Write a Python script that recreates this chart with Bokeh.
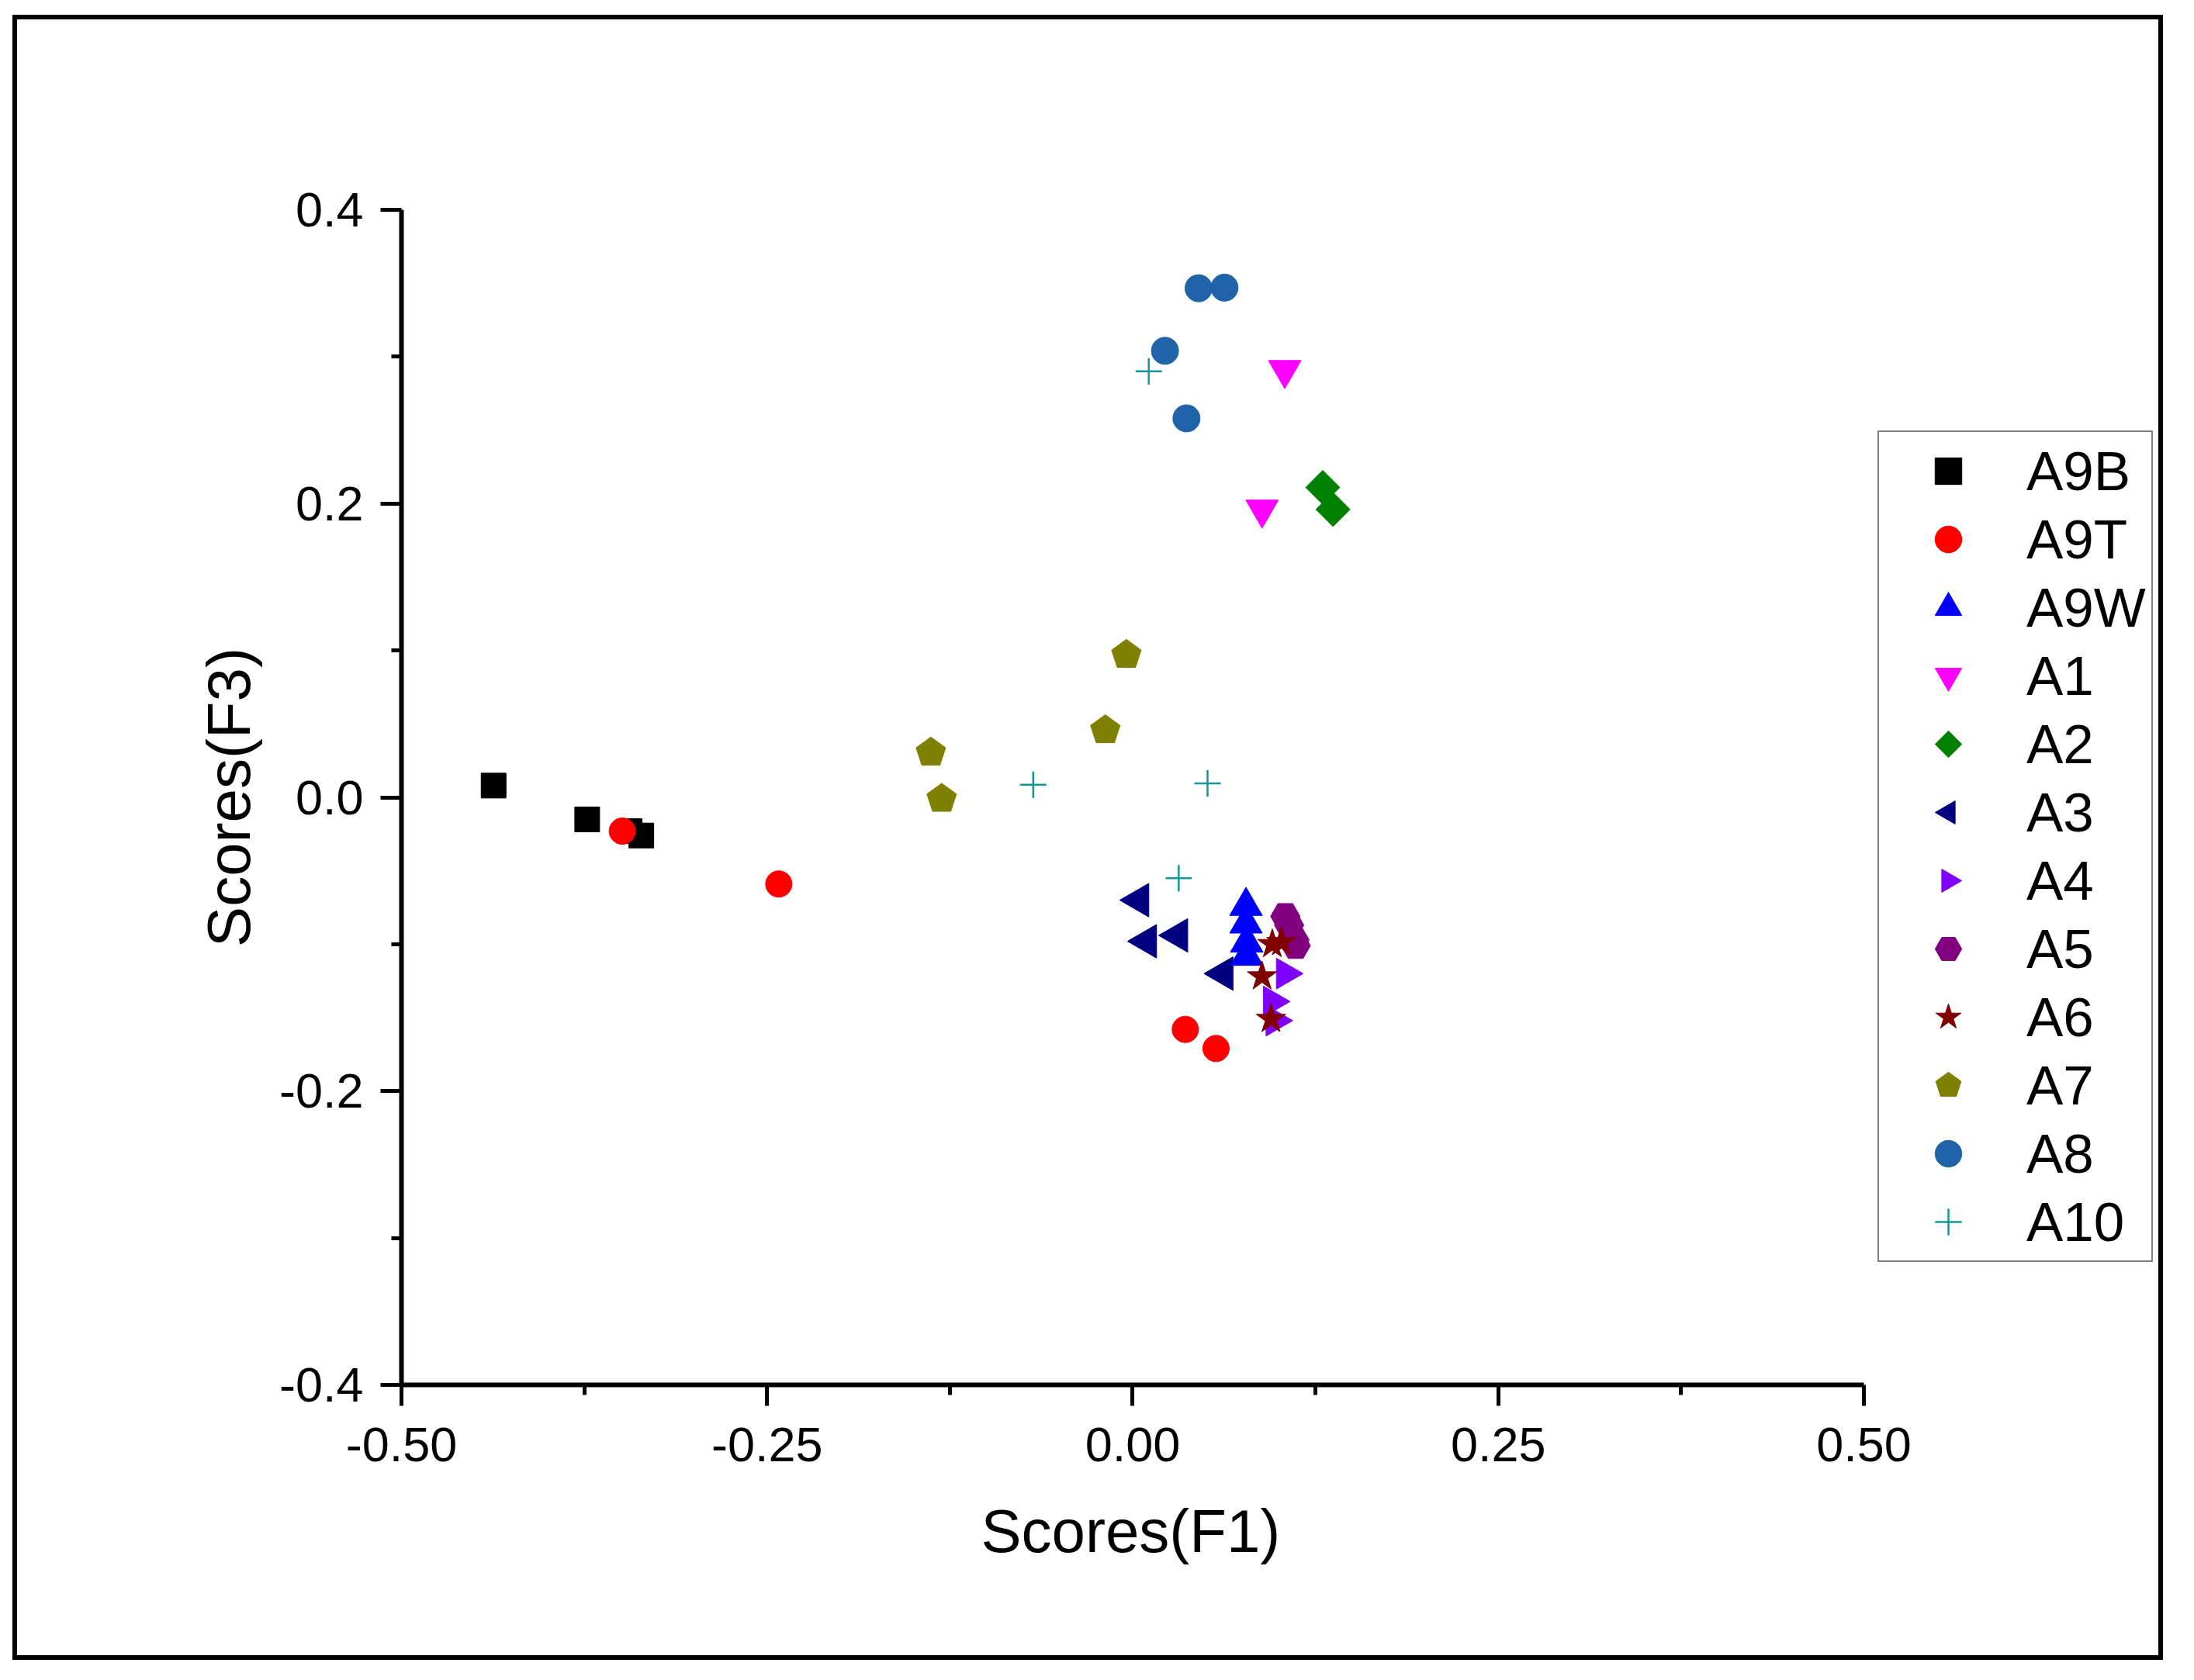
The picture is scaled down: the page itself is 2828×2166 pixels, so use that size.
import math
from bokeh.plotting import figure
from bokeh.models import (Range1d, FixedTicker, PrintfTickFormatter, Legend,
                          LegendItem, Title)
from bokeh.embed import file_html
from bokeh.resources import INLINE

# ---------------- data ----------------
a9b_x = [-0.437, -0.373, -0.344, -0.336]
a9b_y = [0.008, -0.015, -0.023, -0.026]
a9t_x = [-0.349, -0.242, 0.036, 0.057]
a9t_y = [-0.023, -0.059, -0.158, -0.171]
a9w_x = [0.0775, 0.0775, 0.078, 0.078]
a9w_y = [-0.074, -0.086, -0.099, -0.108]
a1_x = [0.104, 0.0885]
a1_y = [0.291, 0.196]
a2_x = [0.130, 0.137]
a2_y = [0.211, 0.196]
a3_x = [0.0044, 0.0097, 0.031, 0.062]
a3_y = [-0.070, -0.098, -0.094, -0.120]
a4_x = [0.1044, 0.0955, 0.0973]
a4_y = [-0.120, -0.139, -0.152]
a5_x = [0.1044, 0.107, 0.1106, 0.1115]
a5_y = [-0.081, -0.087, -0.097, -0.101]
a6_x = [0.0955, 0.1017, 0.0885, 0.0946]
a6_y = [-0.100, -0.0987, -0.122, -0.151]
a7_x = [-0.138, -0.1306, -0.0187, -0.0043]
a7_y = [0.0305, -0.001, 0.0457, 0.097]
a8_x = [0.0451, 0.0628, 0.0221, 0.0368]
a8_y = [0.3466, 0.347, 0.304, 0.258]
a10_x = [0.011, -0.068, 0.0512, 0.0315]
a10_y = [0.290, 0.0086, 0.0095, -0.055]

legend_order = ["A9B", "A9T", "A9W", "A1", "A2", "A3", "A4", "A5", "A6", "A7", "A8", "A10"]

x_ticks = [-0.5, -0.25, 0.0, 0.25, 0.5]
x_minor = [-0.375, -0.125, 0.125, 0.375]
y_ticks = [-0.4, -0.2, 0.0, 0.2, 0.4]
y_minor = [-0.3, -0.1, 0.1, 0.3]
x_axis_bounds = (-0.5, 0.5)
x_title = "Scores(F1)"
y_title = "Scores(F3)"

FONT = "Liberation Sans"

# frame spans to the right border so the legend (drawn inside it) is not clipped;
# the x axis itself is bounded to [-0.5, 0.5]
p = figure(width=2772, height=2121, output_backend="svg", toolbar_location=None,
           x_range=Range1d(-0.5, 0.708), y_range=Range1d(-0.4, 0.4),
           min_border_left=495, min_border_right=0, min_border_top=245,
           min_border_bottom=361)
p.styles = {"border": "6px solid black", "margin-left": "16px", "margin-top": "19px"}
p.outline_line_color = None
p.grid.visible = False
p.background_fill_color = "white"
p.border_fill_color = "white"

for ax in (p.xaxis[0], p.yaxis[0]):
    ax.axis_line_width = 6
    ax.major_tick_line_width = 5
    ax.minor_tick_line_width = 5
    ax.major_tick_out = 27
    ax.major_tick_in = 0
    ax.minor_tick_out = 13
    ax.minor_tick_in = 0
    ax.major_label_text_font = FONT
    ax.major_label_text_font_size = "63px"
    ax.major_label_text_color = "black"
    ax.axis_label_text_font = FONT
    ax.axis_label_text_font_size = "78px"
    ax.axis_label_text_font_style = "normal"
    ax.axis_label_text_color = "black"

p.xaxis.bounds = x_axis_bounds
p.xaxis.ticker = FixedTicker(ticks=x_ticks, minor_ticks=x_minor)
p.yaxis.ticker = FixedTicker(ticks=y_ticks, minor_ticks=y_minor)
p.xaxis.formatter = PrintfTickFormatter(format="%.2f")
p.yaxis.formatter = PrintfTickFormatter(format="%.1f")
p.yaxis.axis_label = y_title
p.xaxis.major_label_standoff = 28
p.yaxis.major_label_standoff = 22
p.yaxis.axis_label_standoff = 18

# x-axis title, centred under the bounded axis (not under the wider frame)
xt = Title(text=x_title, align="left", offset=747, standoff=83,
           text_font=FONT, text_font_size="78px", text_font_style="normal",
           text_color="black")
p.add_layout(xt, "below")

r = {}
r["A9B"] = p.scatter(a9b_x, a9b_y, marker="square", size=32, color="black")
r["A9T"] = p.scatter(a9t_x, a9t_y, marker="circle", size=34, color="#ff0000")
r["A1"] = p.scatter(a1_x, a1_y, marker="inverted_triangle", size=42, color="#ff00ff")
r["A2"] = p.ngon(a2_x, a2_y, radius=22, radius_units="screen", n=4, angle=0,
                 fill_color="#008000", line_color="#008000")
r["A3"] = p.ngon(a3_x, a3_y, radius=25, radius_units="screen", n=3, angle=math.pi / 2,
                 fill_color="#000080", line_color="#000080")
r["A9W"] = p.scatter(a9w_x, a9w_y, marker="triangle", size=42, color="#0000ff")
r["A4"] = p.ngon(a4_x, a4_y, radius=23, radius_units="screen", n=3, angle=-math.pi / 2,
                 fill_color="#8000ff", line_color="#8000ff")
r["A5"] = p.scatter(a5_x, a5_y, marker="hex", size=38, color="#800080")
r["A6"] = p.scatter(a6_x, a6_y, marker="star", size=40, color="#800000")
r["A7"] = p.ngon(a7_x, a7_y, radius=20, radius_units="screen", n=5, angle=0,
                 fill_color="#808000", line_color="#808000")
r["A8"] = p.scatter(a8_x, a8_y, marker="circle", size=35, color="#1f63a8")
r["A10"] = p.scatter(a10_x, a10_y, marker="cross", size=34, line_color="#139696", line_width=2.5)

legend = Legend(items=[LegendItem(label=k, renderers=[r[k]]) for k in legend_order],
                location=(1903, 158), orientation="vertical",
                label_text_font=FONT, label_text_font_size="71px",
                label_text_color="black",
                label_height=86, glyph_height=86, glyph_width=164,
                label_standoff=19, spacing=2, padding=7, margin=0,
                border_line_color="black", border_line_width=2,
                background_fill_color="white", background_fill_alpha=1)
p.add_layout(legend, "center")

open("out.html", "w").write(file_html(p, INLINE))
